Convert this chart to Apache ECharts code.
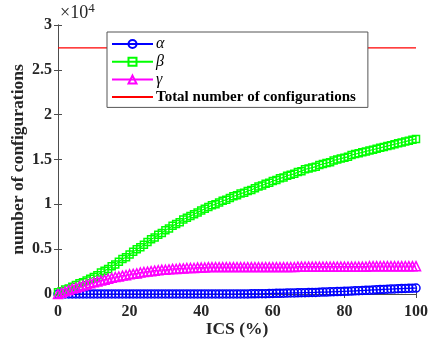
<!DOCTYPE html>
<html><head><meta charset="utf-8">
<script src="https://cdn.jsdelivr.net/npm/echarts@6/dist/echarts.min.js"></script>
<style>html,body{margin:0;padding:0;background:#fff}#c{width:429px;height:344px}</style>
</head><body><div id="c"></div>
<script>
var ics = [0,1,2,3,4,5,6,7,8,9,10,11,12,13,14,15,16,17,18,19,20,21,22,23,24,25,26,27,28,29,30,31,32,33,34,35,36,37,38,39,40,41,42,43,44,45,46,47,48,49,50,51,52,53,54,55,56,57,58,59,60,61,62,63,64,65,66,67,68,69,70,71,72,73,74,75,76,77,78,79,80,81,82,83,84,85,86,87,88,89,90,91,92,93,94,95,96,97,98,99,100];
var alpha = [0,0,0,0,0,0,0,0,0,0,0,0,0,0,0,0,0,0,0,0,0,0,0,0,0,0,0,0,0,0,0,0,0,0,0,0,0,0,0,0,0,0,0,0,0,0,0,0,0,0,0,10,10,10,20,20,30,30,40,50,60,70,80,90,100,110,120,130,140,150,160,170,180,200,210,220,240,250,270,280,300,310,330,350,370,390,410,430,450,470,490,510,530,550,570,590,600,620,630,650,660];
var beta = [200,300,500,600,800,1000,1200,1300,1500,1700,1900,2100,2400,2600,2800,3100,3300,3600,3900,4100,4400,4700,5000,5200,5500,5800,6100,6300,6600,6800,7100,7300,7600,7800,8000,8300,8500,8700,8900,9100,9300,9500,9700,9900,10000,10200,10400,10500,10700,10900,11000,11200,11300,11500,11600,11800,12000,12100,12300,12400,12600,12700,12900,13000,13200,13300,13400,13600,13700,13900,14000,14100,14200,14400,14500,14600,14700,14900,15000,15100,15200,15300,15500,15600,15700,15800,15900,16000,16100,16200,16300,16400,16500,16600,16700,16800,16900,17000,17100,17200,17300];
var gamma = [0,150,300,450,600,700,850,950,1050,1200,1300,1400,1500,1600,1700,1800,1900,1950,2050,2100,2200,2250,2300,2400,2450,2500,2550,2600,2650,2700,2700,2750,2800,2800,2850,2850,2900,2900,2900,2950,2950,2950,3000,3000,3000,3000,3000,3000,3000,3000,3000,3000,3000,3000,3000,3000,3000,3000,3000,3000,3000,3000,3000,3000,3000,3000,3000,3050,3050,3050,3050,3050,3050,3050,3050,3050,3050,3050,3050,3050,3050,3050,3050,3050,3050,3050,3050,3100,3100,3100,3100,3100,3100,3100,3100,3100,3100,3100,3100,3100,3100];
var totalX = [0, 100];
var totalY = [27450, 27450];
var yTicks = ['0','0.5','1','1.5','2','2.5','3'];
var names = ['α','β','γ','Total number of configurations'];

function pairs(xs, ys){ return xs.map(function(x,i){ return [x, ys[i]]; }); }
var font = 'Liberation Serif';
var axisCol = '#4d4d4d';
var txtCol = '#262626';
var chart = echarts.init(document.getElementById('c'), null, {renderer:'canvas'});
function mk(name, data, col, sym, size){
  return {name:name, type:'line', data:data, symbol:sym, symbolSize:size, showAllSymbol:true,
    lineStyle:{color:col, width:1.2}, itemStyle:{color:'rgba(0,0,0,0)', borderColor:col, borderWidth:1.5},
    emphasis:{disabled:true}, animation:false, clip:false, z:3};
}
chart.setOption({
  animation:false,
  grid:{left:58, right:13, top:25, bottom:50, containLabel:false, outerBoundsMode:'none'},
  xAxis:[{type:'value', min:0, max:100, interval:20, position:'bottom',
    name:'ICS (%)', nameLocation:'middle', nameGap:26, nameMoveOverlap:false,
    nameTextStyle:{fontFamily:font, fontWeight:'bold', fontSize:17.5, color:txtCol},
    axisLine:{lineStyle:{color:axisCol}}, axisTick:{inside:true, length:4, lineStyle:{color:axisCol}},
    axisLabel:{fontFamily:font, fontWeight:'bold', fontSize:16, color:txtCol, margin:10},
    splitLine:{show:false}},
   {type:'value', min:0, max:100, interval:20, position:'top',
    axisLine:{lineStyle:{color:axisCol}}, axisTick:{inside:true, length:4, lineStyle:{color:axisCol}},
    axisLabel:{show:false}, splitLine:{show:false}}],
  yAxis:[{type:'value', min:0, max:30000, interval:5000, position:'left',
    name:'number of configurations', nameLocation:'middle', nameGap:31, nameMoveOverlap:false,
    nameTextStyle:{fontFamily:font, fontWeight:'bold', fontSize:17.5, color:txtCol},
    axisLine:{show:true, lineStyle:{color:axisCol}}, axisTick:{show:true, inside:true, length:4, lineStyle:{color:axisCol}},
    axisLabel:{fontFamily:font, fontWeight:'bold', fontSize:16, color:txtCol, margin:6,
      formatter:function(v){ return yTicks[Math.round(v/5000)]; }},
    splitLine:{show:false}},
   {type:'value', min:0, max:30000, interval:5000, position:'right',
    axisLine:{show:true, lineStyle:{color:axisCol}}, axisTick:{show:true, inside:true, length:4, lineStyle:{color:axisCol}},
    axisLabel:{show:false}, splitLine:{show:false}}],
  legend:{orient:'vertical', left:107, top:32, itemWidth:41, itemHeight:10, itemGap:1.8,
    padding:[4,12,3,4], borderColor:'#555', borderWidth:1, backgroundColor:'#fff',
    selectedMode:false,
    textStyle:{fontFamily:font, fontSize:15, color:'#000', padding:[0,0,0,-2]},
    data:[
      {name:names[0], textStyle:{fontStyle:'italic', fontSize:16}},
      {name:names[1], textStyle:{fontStyle:'italic', fontSize:16}},
      {name:names[2], textStyle:{fontStyle:'italic', fontSize:16}},
      {name:names[3], textStyle:{fontWeight:'bold'}, itemStyle:{color:'rgba(0,0,0,0)', borderWidth:0, opacity:0}}
    ]},
  graphic:[{type:'text', left:60, top:2, style:{text:'×10{s|4}', rich:{s:{fontSize:13, verticalAlign:'top', padding:[0,0,10,0], fontFamily:font, fill:txtCol}}, fontFamily:font, fontSize:18, fill:txtCol}}],
  series:[
    mk(names[0], pairs(ics, alpha), '#0000ff', 'circle', 8),
    mk(names[1], pairs(ics, beta), '#00ff00', 'rect', 7),
    mk(names[2], pairs(ics, gamma), '#ff00ff', 'triangle', 9),
    {name:names[3], type:'line', data:pairs(totalX, totalY), symbol:'none', lineStyle:{color:'#ff0000', width:1.2}, itemStyle:{color:'#ff0000'}, z:2}
  ]
});
</script></body></html>
